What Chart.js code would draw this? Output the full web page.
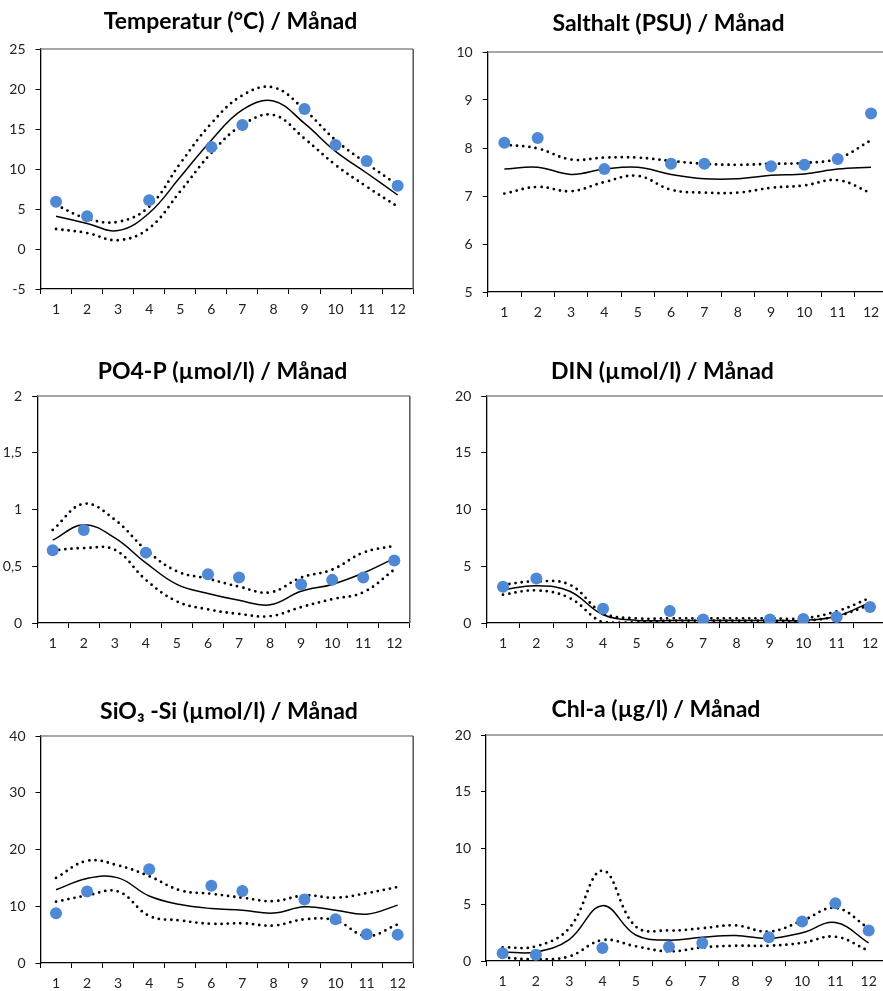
<!DOCTYPE html>
<html><head><meta charset="utf-8">
<script src="https://cdn.jsdelivr.net/npm/chart.js@4/dist/chart.umd.min.js"></script>
<style>
html,body{margin:0;padding:0;background:#fff;width:883px;height:991px;overflow:hidden;position:relative}
canvas{position:absolute}
</style></head><body>
<canvas id="c1"></canvas><canvas id="c2"></canvas><canvas id="c3"></canvas>
<canvas id="c4"></canvas><canvas id="c5"></canvas><canvas id="c6"></canvas>
<script>
const months = ['1','2','3','4','5','6','7','8','9','10','11','12'];

const tempMean  = [4.1, 3.2, 2.3, 4.5, 9.0, 13.6, 17.4, 18.5, 15.7, 12.2, 9.5, 6.75];
const tempUpper = [5.5, 3.8, 3.4, 5.3, 10.7, 15.7, 19.2, 20.2, 17.4, 13.6, 10.7, 8.0];
const tempLower = [2.5, 2.0, 1.1, 2.6, 7.2, 12.0, 15.5, 16.75, 13.8, 10.5, 7.8, 5.3];
const tempObs   = [5.9, 4.1, null, 6.1, null, 12.75, 15.5, null, 17.5, 13.0, 11.0, 7.9];

const saltMean  = [7.56, 7.6, 7.45, 7.56, 7.6, 7.45, 7.36, 7.36, 7.43, 7.46, 7.56, 7.6];
const saltUpper = [8.07, 7.99, 7.76, 7.8, 7.8, 7.73, 7.67, 7.65, 7.67, 7.69, 7.78, 8.16];
const saltLower = [7.05, 7.19, 7.1, 7.29, 7.42, 7.13, 7.07, 7.07, 7.17, 7.22, 7.33, 7.06];
const saltObs   = [8.11, 8.21, null, 7.56, null, 7.67, 7.67, null, 7.62, 7.65, 7.77, 8.72];

const po4Mean  = [0.73, 0.865, 0.75, 0.53, 0.34, 0.26, 0.2, 0.16, 0.28, 0.34, 0.44, 0.57];
const po4Upper = [0.82, 1.05, 0.91, 0.645, 0.455, 0.39, 0.32, 0.27, 0.40, 0.47, 0.62, 0.68];
const po4Lower = [0.64, 0.66, 0.645, 0.38, 0.19, 0.12, 0.08, 0.06, 0.14, 0.21, 0.27, 0.47];
const po4Obs   = [0.64, 0.82, null, 0.62, null, 0.43, 0.40, null, 0.34, 0.38, 0.40, 0.55];

const dinMean  = [2.93, 3.28, 2.8, 0.73, 0.23, 0.23, 0.23, 0.23, 0.23, 0.23, 0.59, 1.82];
const dinUpper = [3.37, 3.67, 3.37, 0.88, 0.41, 0.41, 0.41, 0.41, 0.41, 0.41, 1.03, 2.2];
const dinLower = [2.5, 2.87, 2.2, 0.06, 0.06, 0.2, 0.2, 0.2, 0.2, 0.2, 0.59, 1.6];
const dinObs   = [3.2, 3.93, null, 1.26, null, 1.06, 0.3, null, 0.3, 0.35, 0.53, 1.4];

const sioMean  = [12.9, 14.9, 15.0, 11.8, 10.3, 9.6, 9.3, 8.8, 9.9, 9.3, 8.6, 10.2];
const sioUpper = [15.0, 18.0, 17.2, 15.3, 12.8, 12.2, 11.5, 10.9, 11.9, 11.5, 12.3, 13.4];
const sioLower = [10.8, 11.9, 12.6, 8.3, 7.5, 6.9, 7.0, 6.6, 7.7, 7.5, 4.75, 6.8];
const sioObs   = [8.75, 12.6, null, 16.5, null, 13.6, 12.7, null, 11.2, 7.7, 5.05, 5.0];

const chlMean  = [0.8, 0.8, 1.9, 4.9, 2.3, 1.85, 2.1, 2.25, 2.0, 2.5, 3.4, 1.6];
const chlUpper = [1.2, 1.3, 2.9, 8.0, 3.05, 2.7, 2.9, 3.15, 2.6, 3.55, 4.7, 2.9];
const chlLower = [0.3, 0.15, 0.4, 1.85, 1.3, 0.85, 1.2, 1.35, 1.35, 1.6, 2.15, 0.9];
const chlObs   = [0.68, 0.56, null, 1.15, null, 1.26, 1.6, null, 2.1, 3.5, 5.1, 2.7];

const titles = ['Temperatur (°C) / Månad', 'Salthalt (PSU) / Månad', 'PO4-P (µmol/l) / Månad',
  'DIN (µmol/l) / Månad', 'SiO₃ -Si (µmol/l) / Månad', 'Chl-a (µg/l) / Månad'];
const yMins  = [-5, 5, 0, 0, 0, 0];
const yMaxs  = [25, 10, 2, 20, 40, 20];
const ySteps = [5, 1, 0.5, 5, 10, 5];

const FONT = 'Lato, "Open Sans", sans-serif';
const DOT = '#4F88D4';

const frame = {
  id: 'frame',
  afterDatasetsDraw(chart) {
    const a = chart.chartArea, c = chart.ctx;
    c.save();
    c.lineWidth = 1.5;
    c.strokeStyle = '#8a8a8a';
    c.beginPath(); c.moveTo(a.left, a.top); c.lineTo(a.right, a.top); c.stroke();
    c.strokeStyle = '#555';
    c.beginPath(); c.moveTo(a.right, a.top); c.lineTo(a.right, a.bottom); c.stroke();
    c.restore();
  }
};

function make(id, idx, box, mean, upper, lower, obs) {
  const cv = document.getElementById(id);
  cv.width = box.w; cv.height = box.h;
  cv.style.left = box.l + 'px'; cv.style.top = box.t + 'px';
  const dotted = d => ({data: d, borderColor: '#000', borderWidth: 2.8, borderDash: [0, 6.3],
    borderCapStyle: 'round', pointRadius: 0, tension: 0.4, fill: false, order: 2});
  new Chart(cv, {
    type: 'line',
    data: {
      labels: months,
      datasets: [
        {data: obs, showLine: false, pointRadius: 6, pointBackgroundColor: DOT, pointBorderWidth: 0,
          borderColor: DOT, order: 0},
        {data: mean, borderColor: '#000', borderWidth: 1.5, pointRadius: 0, tension: 0.4, fill: false, order: 1},
        dotted(upper), dotted(lower)
      ]
    },
    options: {
      responsive: false, animation: false,
      layout: {padding: 0},
      plugins: {
        legend: {display: false}, tooltip: {enabled: false},
        title: {display: true, text: titles[idx], color: '#000',
          font: {family: FONT, size: 23, weight: 'bold', lineHeight: 1.2},
          padding: {top: box.tp, bottom: box.tb}}
      },
      scales: {
        x: {
          offset: true,
          grid: {offset: true, drawOnChartArea: false, drawTicks: true, tickLength: 5, color: '#000', lineWidth: 1},
          border: {display: true, color: '#000', width: 1.3},
          ticks: {color: '#222', font: {family: FONT, size: 14}, padding: 7, maxRotation: 0, autoSkip: false},
          afterFit(s) { s.height = box.xh; }
        },
        y: {
          min: yMins[idx], max: yMaxs[idx],
          grid: {drawOnChartArea: false, drawTicks: true, tickLength: 5, color: '#000', lineWidth: 1},
          border: {display: true, color: '#000', width: 1.3},
          ticks: {stepSize: ySteps[idx], color: '#222', font: {family: FONT, size: 14}, padding: 10,
            callback: v => String(v).replace('.', ',')},
          afterFit(s) { s.width = box.yw; }
        },
        spacer: {
          type: 'linear', position: 'right', display: true,
          grid: {display: false}, border: {display: false}, ticks: {display: false},
          afterFit(s) { s.width = box.pr; }
        }
      }
    },
    plugins: [frame]
  });
}

make('c1', 0, {l: 0,   t: 0,   w: 461, h: 330, yw: 40.5, pr: 47.8, tp: 8,  tb: 13.4, xh: 41}, tempMean, tempUpper, tempLower, tempObs);
make('c2', 1, {l: 441, t: 0,   w: 455, h: 330, yw: 46.7, pr: 8.3,  tp: 10, tb: 14.4, xh: 38}, saltMean, saltUpper, saltLower, saltObs);
make('c3', 2, {l: 0,   t: 350, w: 445, h: 310, yw: 37.2, pr: 35.2, tp: 7.7, tb: 10.7, xh: 37}, po4Mean, po4Upper, po4Lower, po4Obs);
make('c4', 3, {l: 430, t: 350, w: 465, h: 310, yw: 56.3, pr: 8.3,  tp: 8.2, tb: 10.2, xh: 37}, dinMean, dinUpper, dinLower, dinObs);
make('c5', 4, {l: 0,   t: 690, w: 458, h: 301, yw: 40.5, pr: 44.8, tp: 7.9, tb: 10.5, xh: 28}, sioMean, sioUpper, sioLower, sioObs);
make('c6', 5, {l: 420, t: 690, w: 472, h: 301, yw: 66,   pr: 6.7,  tp: 5.9, tb: 11.5, xh: 30}, chlMean, chlUpper, chlLower, chlObs);
</script>
</body></html>
